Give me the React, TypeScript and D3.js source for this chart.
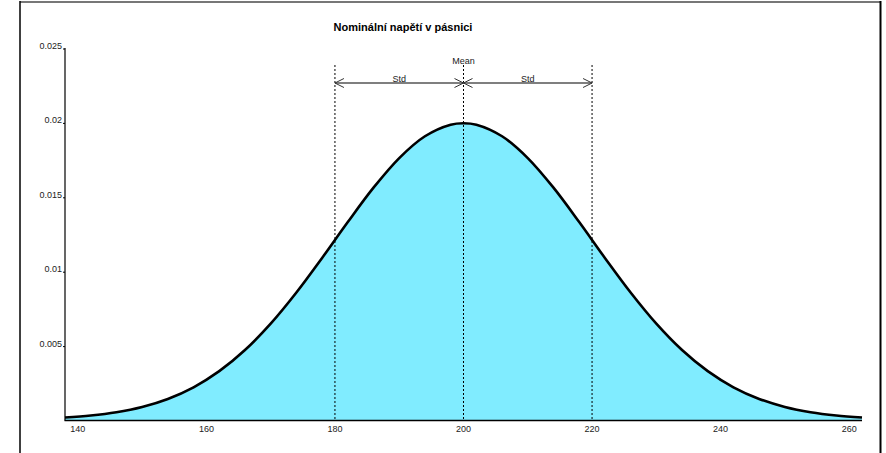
import React from "react";
import * as d3 from "d3";

// Density of the nominal flange stress distribution (mean 200, std 20)
const xValues = [138, 142, 146, 150, 154, 158, 162, 166, 170, 174, 178, 182, 186, 190, 194, 198, 200, 202, 206, 210, 214, 218, 222, 226, 230, 234, 238, 242, 246, 250, 254, 258, 262];
const densityValues = [0.000163, 0.000298, 0.000521, 0.000876, 0.001416, 0.002199, 0.003281, 0.004703, 0.006476, 0.008569, 0.010893, 0.013304, 0.015613, 0.017603, 0.01907, 0.019848, 0.019947, 0.019848, 0.01907, 0.017603, 0.015613, 0.013304, 0.010893, 0.008569, 0.006476, 0.004703, 0.003281, 0.002199, 0.001416, 0.000876, 0.000521, 0.000298, 0.000163];

const meanValue = 200;
const stdValue = 20;

const xTicks = [140, 160, 180, 200, 220, 240, 260];
const yTicks = [0.005, 0.01, 0.015, 0.02, 0.025];
const yTickLabels = ["0.005", "0.01", "0.015", "0.02", "0.025"];

const title = "Nominální napětí v pásnici";

export default function App() {
  const width = 886;
  const height = 453;
  const x = d3.scaleLinear().domain([138, 262]).range([65, 862]);
  const y = d3.scaleLinear().domain([0, 0.025]).range([420, 48]);

  const pts = xValues.map((v, i) => [v, densityValues[i]] as [number, number]);
  const area = d3
    .area<[number, number]>()
    .x((d) => x(d[0]))
    .y0(y(0))
    .y1((d) => y(d[1]))
    .curve(d3.curveCatmullRom);
  const line = d3
    .line<[number, number]>()
    .x((d) => x(d[0]))
    .y((d) => y(d[1]))
    .curve(d3.curveCatmullRom);

  const font = "'Liberation Sans', Arial, sans-serif";
  const lo = meanValue - stdValue;
  const hi = meanValue + stdValue;
  const arrowY = 83;
  const ah = 9;
  const aw = 4.5;
  const arrowColor = "#555";

  const chevron = (tipX: number, dir: number, key: string) => (
    <path
      key={key}
      d={`M${tipX + dir * ah},${arrowY - aw}L${tipX},${arrowY}L${tipX + dir * ah},${arrowY + aw}`}
      fill="none"
      stroke="#333"
      strokeWidth={1}
    />
  );

  return (
    <svg
      width={width}
      height={height}
      style={{ position: "fixed", left: 0, top: 0, background: "#fff" }}
      fontFamily={font}
    >
      {/* frame */}
      <line x1={20} y1={2} x2={881} y2={2} stroke="#777" strokeWidth={2} />
      <line x1={20} y1={1} x2={20} y2={453} stroke="#000" strokeWidth={1.5} />
      <line x1={880.5} y1={1} x2={880.5} y2={453} stroke="#000" strokeWidth={2} />

      <text x={403} y={31} textAnchor="middle" fontSize={11} fontWeight="bold" fill="#000">
        {title}
      </text>

      {/* density */}
      <path d={area(pts) || ""} fill="#80ecff" stroke="none" />

      {/* mean and ±std markers */}
      {[lo, meanValue, hi].map((v) => (
        <line
          key={"v" + v}
          x1={x(v)}
          x2={x(v)}
          y1={65}
          y2={y(0)}
          stroke="#000"
          strokeWidth={1}
          strokeDasharray="2,2"
        />
      ))}

      <path d={line(pts) || ""} fill="none" stroke="#000" strokeWidth={2.6} strokeLinejoin="round" />

      <line x1={x(lo)} x2={x(hi)} y1={arrowY} y2={arrowY} stroke={arrowColor} strokeWidth={1.5} />
      {chevron(x(lo), 1, "a1")}
      {chevron(x(meanValue), -1, "a2")}
      {chevron(x(meanValue), 1, "a3")}
      {chevron(x(hi), -1, "a4")}
      <text x={x((lo + meanValue) / 2)} y={82} textAnchor="middle" fontSize={9} fill="#222">
        Std
      </text>
      <text x={x((hi + meanValue) / 2)} y={82} textAnchor="middle" fontSize={9} fill="#222">
        Std
      </text>
      <text x={x(meanValue)} y={64} textAnchor="middle" fontSize={9} fill="#222">
        Mean
      </text>

      {/* axes */}
      <line x1={65} x2={65} y1={y(0.025)} y2={y(0) + 0.5} stroke="#000" strokeWidth={1.2} />
      <line x1={64.5} x2={x(262)} y1={y(0) + 0.5} y2={y(0) + 0.5} stroke="#000" strokeWidth={1.5} />

      {yTicks.map((t, i) => (
        <g key={"y" + t}>
          <line x1={63} x2={65} y1={y(t) + 1} y2={y(t) + 1} stroke="#000" strokeWidth={1} />
          <text x={62} y={y(t) + 1} textAnchor="end" fontSize={9} fill="#222">
            {yTickLabels[i]}
          </text>
        </g>
      ))}

      {xTicks.map((t) => (
        <text key={"x" + t} x={x(t)} y={432} textAnchor="middle" fontSize={9} fill="#222">
          {t}
        </text>
      ))}
    </svg>
  );
}
